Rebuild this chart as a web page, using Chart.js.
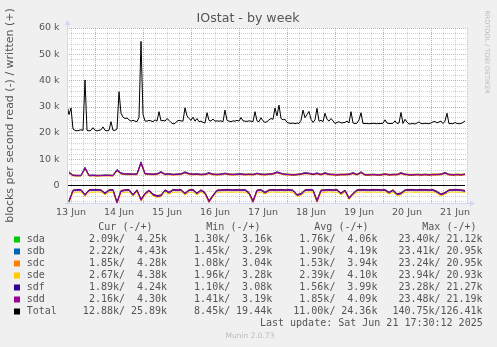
<!DOCTYPE html>
<html>
<head>
<meta charset="utf-8">
<script src="https://cdn.jsdelivr.net/npm/chart.js@4"></script>
<style>
  html, body { margin: 0; padding: 0; background: #F0F0F0; }
  canvas { display: block; }
</style>
</head>
<body>
<canvas id="myChart" width="497" height="347"></canvas>
<script>
// x axis: hours since 13 Jun 00:00
const dayLabels = ['13 Jun', '14 Jun', '15 Jun', '16 Jun', '17 Jun', '18 Jun', '19 Jun', '20 Jun', '21 Jun'];
const dayNoonHours = [12, 36, 60, 84, 108, 132, 156, 180, 204];
const yTicks = [0, 10, 20, 30, 40, 50, 60];

// Total written (+), k blocks/s, one value per hour from hour 10
const totalWrite = [
  30.6, 27.0, 29.5, 21.5, 21.0, 20.8, 21.0, 21.2, 21.0, 40.2,
  21.0, 20.8, 21.0, 22.0, 21.0, 20.8, 21.0, 21.2, 22.3, 21.0,
  20.8, 21.0, 24.3, 21.0, 21.0, 21.5, 35.7, 27.5, 26.0, 25.5,
  25.7, 25.0, 24.5, 24.8, 24.5, 24.3, 26.0, 54.9, 27.0, 24.6,
  24.5, 24.8, 24.6, 24.3, 25.0, 24.5, 28.1, 24.6, 24.8, 24.5,
  25.5, 24.8, 24.0, 23.5, 23.6, 24.5, 24.8, 24.6, 24.5, 29.6,
  26.5, 25.5, 24.8, 26.0, 24.5, 25.5, 24.3, 24.5, 24.0, 23.8,
  27.7, 24.8, 24.5, 25.3, 24.5, 24.6, 24.5, 24.6, 24.3, 28.7,
  24.8, 24.5, 24.3, 24.6, 24.5, 24.8, 24.5, 25.9, 24.6, 24.5,
  24.4, 24.6, 24.5, 24.3, 28.1, 24.6, 24.3, 25.8, 24.6, 24.0,
  24.3, 25.0, 25.5, 25.2, 29.5, 26.5, 30.6, 25.5, 25.0, 25.2,
  24.0, 23.8, 23.6, 23.8, 23.5, 23.8, 23.6, 24.8, 28.7, 25.8,
  27.0, 28.2, 25.2, 24.0, 25.0, 29.4, 24.5, 24.8, 24.3, 27.5,
  25.2, 24.5, 25.5, 24.6, 23.6, 24.0, 24.3, 23.8, 23.9, 24.0,
  24.5, 23.8, 28.1, 23.8, 23.6, 23.7, 25.0, 27.7, 23.6, 23.6,
  23.6, 23.5, 23.6, 23.7, 23.6, 23.5, 23.6, 23.6, 23.7, 25.0,
  23.8, 23.6, 23.6, 23.7, 24.6, 23.6, 23.8, 27.8, 23.6, 25.2,
  24.1, 23.4, 23.5, 23.6, 23.4, 23.8, 24.2, 23.6, 23.5, 23.7,
  23.6, 23.5, 23.8, 24.2, 24.4, 23.8, 24.2, 24.5, 23.6, 24.5,
  27.5, 23.5, 23.6, 23.5, 24.0, 23.6, 23.5, 23.6, 24.0, 24.6
];

// per device, one value every 2 hours from hour 11 (k blocks/s)
const sdaWrite = [
  4.9, 3.8, 3.8, 3.7, 6.7, 3.8, 3.8, 3.7, 3.8, 3.8,
  3.8, 3.8, 5.9, 4.6, 4.3, 4.3, 4.3, 4.3, 8.7, 4.5,
  4.3, 4.3, 4.3, 5.1, 4.3, 4.3, 4.2, 4.2, 4.3, 5.0,
  4.4, 4.3, 4.3, 4.2, 4.2, 4.7, 4.3, 4.2, 4.2, 4.5,
  4.3, 4.2, 4.2, 4.3, 4.2, 4.3, 4.2, 4.5, 4.3, 4.2,
  4.3, 4.4, 5.0, 4.5, 4.3, 4.2, 4.1, 4.1, 4.3, 4.7,
  4.5, 4.3, 4.6, 4.2, 4.7, 4.3, 4.1, 4.1, 4.2, 4.1,
  4.3, 4.7, 4.1, 5.0, 4.1, 4.1, 4.1, 4.1, 4.1, 4.3,
  4.1, 4.1, 4.2, 4.7, 4.3, 4.1, 4.1, 4.1, 4.1, 4.2,
  4.1, 4.1, 4.2, 4.3, 4.8, 4.2, 4.1, 4.1, 4.1, 4.3
];
const sdbWrite = [
  5.2, 4.0, 3.9, 3.9, 6.9, 3.9, 4.0, 3.9, 3.9, 4.0,
  4.0, 3.9, 6.1, 4.8, 4.5, 4.5, 4.4, 4.5, 9.0, 4.6,
  4.5, 4.4, 4.5, 5.3, 4.4, 4.5, 4.3, 4.4, 4.5, 5.2,
  4.6, 4.4, 4.5, 4.3, 4.4, 4.9, 4.4, 4.3, 4.4, 4.7,
  4.4, 4.3, 4.4, 4.5, 4.3, 4.4, 4.3, 4.7, 4.4, 4.3,
  4.5, 4.6, 5.2, 4.7, 4.4, 4.3, 4.2, 4.3, 4.5, 4.9,
  4.7, 4.4, 4.8, 4.3, 4.9, 4.4, 4.3, 4.2, 4.3, 4.3,
  4.4, 4.9, 4.3, 5.2, 4.2, 4.2, 4.3, 4.2, 4.2, 4.5,
  4.2, 4.3, 4.3, 4.9, 4.4, 4.2, 4.2, 4.3, 4.2, 4.3,
  4.2, 4.3, 4.3, 4.4, 5.0, 4.3, 4.2, 4.3, 4.2, 4.4
];
const sdcWrite = [
  4.6, 3.6, 3.5, 3.6, 6.2, 3.5, 3.6, 3.5, 3.6, 3.6,
  3.6, 3.5, 5.5, 4.3, 4.1, 4.0, 4.1, 4.0, 8.2, 4.2,
  4.1, 4.0, 4.1, 4.8, 4.0, 4.1, 3.9, 4.0, 4.1, 4.7,
  4.1, 4.0, 4.1, 3.9, 4.0, 4.4, 4.0, 3.9, 4.0, 4.3,
  4.0, 3.9, 4.0, 4.1, 3.9, 4.0, 3.9, 4.3, 4.0, 3.9,
  4.1, 4.2, 4.7, 4.3, 4.0, 3.9, 3.8, 3.9, 4.1, 4.4,
  4.3, 4.0, 4.3, 3.9, 4.4, 4.0, 3.9, 3.8, 3.9, 3.9,
  4.0, 4.4, 3.9, 4.7, 3.8, 3.8, 3.9, 3.8, 3.8, 4.1,
  3.8, 3.9, 3.9, 4.4, 4.0, 3.8, 3.8, 3.9, 3.8, 3.9,
  3.8, 3.9, 3.9, 4.0, 4.5, 3.9, 3.8, 3.9, 3.8, 4.0
];
const sdeWrite = [
  5.1, 4.0, 3.9, 3.8, 6.6, 3.9, 3.8, 3.9, 3.8, 3.8,
  4.0, 3.9, 5.8, 4.6, 4.4, 4.3, 4.4, 4.3, 8.6, 4.6,
  4.4, 4.4, 4.3, 5.1, 4.4, 4.3, 4.3, 4.2, 4.5, 5.0,
  4.4, 4.4, 4.3, 4.3, 4.2, 4.7, 4.4, 4.3, 4.2, 4.5,
  4.4, 4.3, 4.2, 4.3, 4.3, 4.4, 4.3, 4.5, 4.4, 4.3,
  4.5, 4.4, 5.0, 4.5, 4.4, 4.3, 4.2, 4.3, 4.3, 4.7,
  4.5, 4.4, 4.6, 4.3, 4.7, 4.4, 4.3, 4.2, 4.4, 4.3,
  4.4, 4.7, 4.3, 5.0, 4.2, 4.3, 4.2, 4.2, 4.3, 4.5,
  4.3, 4.2, 4.4, 4.7, 4.4, 4.2, 4.3, 4.3, 4.2, 4.4,
  4.2, 4.4, 4.3, 4.4, 4.8, 4.3, 4.2, 4.4, 4.3, 4.4
];
const sdfWrite = [
  4.8, 3.8, 3.7, 3.7, 6.5, 3.7, 3.8, 3.7, 3.7, 3.8,
  3.8, 3.7, 5.7, 4.5, 4.3, 4.3, 4.2, 4.3, 8.5, 4.4,
  4.3, 4.2, 4.3, 5.0, 4.2, 4.3, 4.1, 4.2, 4.3, 4.9,
  4.4, 4.2, 4.3, 4.1, 4.2, 4.6, 4.2, 4.1, 4.2, 4.5,
  4.2, 4.1, 4.2, 4.3, 4.1, 4.2, 4.1, 4.5, 4.2, 4.1,
  4.3, 4.4, 4.9, 4.5, 4.2, 4.1, 4.0, 4.1, 4.3, 4.6,
  4.5, 4.2, 4.5, 4.1, 4.6, 4.2, 4.1, 4.0, 4.1, 4.1,
  4.2, 4.6, 4.1, 4.9, 4.0, 4.0, 4.1, 4.0, 4.0, 4.3,
  4.0, 4.1, 4.1, 4.6, 4.2, 4.0, 4.0, 4.1, 4.0, 4.1,
  4.0, 4.1, 4.1, 4.2, 4.7, 4.1, 4.0, 4.1, 4.0, 4.2
];
const sddWrite = [
  5.0, 3.9, 3.8, 3.8, 6.8, 3.8, 3.9, 3.8, 3.8, 3.9,
  3.9, 3.8, 6.0, 4.7, 4.4, 4.4, 4.3, 4.4, 8.9, 4.5,
  4.4, 4.3, 4.4, 5.2, 4.3, 4.4, 4.2, 4.3, 4.4, 5.1,
  4.5, 4.3, 4.4, 4.2, 4.3, 4.8, 4.3, 4.2, 4.3, 4.6,
  4.3, 4.2, 4.3, 4.4, 4.2, 4.3, 4.2, 4.6, 4.3, 4.2,
  4.4, 4.5, 5.1, 4.6, 4.3, 4.2, 4.1, 4.2, 4.4, 4.8,
  4.6, 4.3, 4.7, 4.2, 4.8, 4.3, 4.2, 4.1, 4.2, 4.2,
  4.3, 4.8, 4.2, 5.1, 4.1, 4.1, 4.2, 4.1, 4.1, 4.4,
  4.1, 4.2, 4.2, 4.8, 4.3, 4.1, 4.1, 4.2, 4.1, 4.2,
  4.1, 4.2, 4.2, 4.3, 4.9, 4.2, 4.1, 4.2, 4.1, 4.3
];

// read (-), plotted below zero
const sdaRead = [
  6.0, 1.9, 1.8, 1.7, 3.7, 1.8, 1.8, 1.7, 1.8, 3.1,
  1.8, 1.8, 6.5, 2.1, 1.8, 1.8, 3.7, 1.8, 5.5, 3.2,
  1.9, 3.5, 4.1, 3.9, 1.8, 2.8, 1.8, 1.8, 1.7, 3.2,
  1.8, 1.8, 3.1, 1.8, 2.9, 6.1, 3.9, 1.9, 1.8, 1.7,
  1.8, 1.8, 1.7, 1.8, 1.8, 2.9, 6.1, 1.9, 1.8, 2.8,
  1.8, 1.7, 1.8, 1.8, 1.8, 1.7, 1.9, 3.7, 3.3, 1.8,
  1.7, 1.8, 5.9, 1.9, 1.8, 1.7, 1.8, 1.8, 3.1, 1.9,
  4.9, 3.2, 1.8, 1.7, 1.8, 1.8, 1.7, 1.8, 1.8, 1.7,
  2.8, 1.8, 3.4, 3.1, 1.8, 1.7, 1.8, 1.8, 1.7, 1.8,
  1.8, 1.7, 2.5, 3.5, 2.9, 1.8, 1.7, 1.8, 1.8, 2.1
];
const sdbRead = [
  6.2, 2.1, 1.9, 1.9, 3.9, 2.0, 1.9, 1.9, 2.0, 3.3,
  2.0, 1.9, 6.6, 2.3, 2.0, 1.9, 3.9, 2.0, 5.6, 3.4,
  2.1, 3.7, 4.3, 4.1, 2.0, 3.0, 1.9, 2.0, 1.9, 3.4,
  2.0, 1.9, 3.3, 2.0, 3.1, 6.3, 4.1, 2.1, 2.0, 1.9,
  1.9, 2.0, 1.9, 2.0, 1.9, 3.1, 6.3, 2.1, 1.9, 3.0,
  2.0, 1.9, 2.0, 1.9, 2.0, 1.9, 2.1, 3.9, 3.5, 2.0,
  1.9, 2.0, 6.1, 2.1, 2.0, 1.9, 2.0, 1.9, 3.3, 2.1,
  5.0, 3.4, 2.0, 1.9, 1.9, 2.0, 1.9, 1.9, 2.0, 1.9,
  3.0, 2.0, 3.6, 3.3, 2.0, 1.9, 1.9, 2.0, 1.9, 1.9,
  2.0, 1.9, 2.7, 3.7, 3.1, 2.0, 1.9, 1.9, 2.0, 2.2
];
const sdcRead = [
  5.7, 1.7, 1.5, 1.5, 3.4, 1.6, 1.5, 1.5, 1.6, 2.8,
  1.6, 1.5, 6.2, 1.9, 1.6, 1.5, 3.4, 1.6, 5.2, 2.9,
  1.7, 3.2, 3.8, 3.6, 1.6, 2.5, 1.5, 1.6, 1.5, 2.9,
  1.6, 1.5, 2.8, 1.6, 2.6, 5.8, 3.6, 1.7, 1.6, 1.5,
  1.5, 1.6, 1.5, 1.6, 1.5, 2.6, 5.8, 1.7, 1.5, 2.5,
  1.6, 1.5, 1.6, 1.5, 1.6, 1.5, 1.7, 3.4, 3.0, 1.6,
  1.5, 1.6, 5.6, 1.7, 1.6, 1.5, 1.6, 1.5, 2.8, 1.7,
  4.6, 2.9, 1.6, 1.5, 1.5, 1.6, 1.5, 1.5, 1.6, 1.5,
  2.5, 1.6, 3.1, 2.8, 1.6, 1.5, 1.5, 1.6, 1.5, 1.5,
  1.6, 1.5, 2.2, 3.2, 2.6, 1.6, 1.5, 1.5, 1.6, 1.9
];
const sdeRead = [
  6.6, 2.7, 2.6, 2.5, 4.2, 2.6, 2.6, 2.5, 2.6, 3.6,
  2.6, 2.6, 7.0, 2.9, 2.6, 2.6, 4.1, 2.6, 6.0, 3.7,
  2.7, 4.0, 4.6, 4.3, 2.6, 3.3, 2.6, 2.6, 2.5, 3.6,
  2.6, 2.6, 3.6, 2.6, 3.4, 6.6, 4.3, 2.7, 2.6, 2.5,
  2.6, 2.6, 2.5, 2.6, 2.6, 3.4, 6.6, 2.7, 2.6, 3.3,
  2.6, 2.5, 2.6, 2.6, 2.6, 2.5, 2.7, 4.2, 3.8, 2.6,
  2.5, 2.6, 6.5, 2.7, 2.6, 2.5, 2.6, 2.6, 3.6, 2.7,
  5.4, 3.7, 2.6, 2.5, 2.6, 2.6, 2.5, 2.6, 2.6, 2.5,
  3.3, 2.6, 3.9, 3.6, 2.6, 2.5, 2.6, 2.6, 2.5, 2.6,
  2.6, 2.5, 3.0, 4.0, 3.4, 2.6, 2.5, 2.6, 2.6, 2.7
];
const sdfRead = [
  5.9, 1.8, 1.6, 1.6, 3.5, 1.7, 1.6, 1.6, 1.7, 2.9,
  1.7, 1.6, 6.3, 2.0, 1.7, 1.6, 3.5, 1.7, 5.3, 3.0,
  1.8, 3.3, 3.9, 3.7, 1.7, 2.6, 1.6, 1.7, 1.6, 3.0,
  1.7, 1.6, 2.9, 1.7, 2.7, 5.9, 3.7, 1.8, 1.7, 1.6,
  1.6, 1.7, 1.6, 1.7, 1.6, 2.7, 5.9, 1.8, 1.6, 2.6,
  1.7, 1.6, 1.7, 1.6, 1.7, 1.6, 1.8, 3.5, 3.1, 1.7,
  1.6, 1.7, 5.7, 1.8, 1.7, 1.6, 1.7, 1.6, 2.9, 1.8,
  4.7, 3.0, 1.7, 1.6, 1.6, 1.7, 1.6, 1.6, 1.7, 1.6,
  2.6, 1.7, 3.2, 2.9, 1.7, 1.6, 1.6, 1.7, 1.6, 1.6,
  1.7, 1.6, 2.3, 3.3, 2.7, 1.7, 1.6, 1.6, 1.7, 1.9
];
const sddRead = [
  6.4, 2.0, 1.8, 1.8, 3.8, 1.9, 1.8, 1.8, 1.9, 3.2,
  1.9, 1.8, 6.8, 2.2, 1.9, 1.8, 3.8, 1.9, 5.7, 3.3,
  2.0, 3.6, 4.2, 4.0, 1.9, 2.9, 1.8, 1.9, 1.8, 3.3,
  1.9, 1.8, 3.2, 1.9, 3.0, 6.4, 4.0, 2.0, 1.9, 1.8,
  1.8, 1.9, 1.8, 1.9, 1.8, 3.0, 6.4, 2.0, 1.8, 2.9,
  1.9, 1.8, 1.9, 1.8, 1.9, 1.8, 2.0, 3.8, 3.4, 1.9,
  1.8, 1.9, 6.2, 2.0, 1.9, 1.8, 1.9, 1.8, 3.2, 2.0,
  5.1, 3.3, 1.9, 1.8, 1.8, 1.9, 1.8, 1.8, 1.9, 1.8,
  2.9, 1.9, 3.5, 3.2, 1.9, 1.8, 1.8, 1.9, 1.8, 1.8,
  1.9, 1.8, 2.6, 3.6, 3.0, 1.9, 1.8, 1.8, 1.9, 2.2
];

// legend table
const legendNames = ['sda', 'sdb', 'sdc', 'sde', 'sdf', 'sdd', 'Total'];
const legendColors = ['#00CC00', '#0066B3', '#FF8000', '#FFCC00', '#330099', '#990099', '#000000'];
const curRead  = [2.09, 2.22, 1.85, 2.67, 1.89, 2.16, 12.88];
const curWrite = [4.25, 4.43, 4.28, 4.38, 4.24, 4.30, 25.89];
const minRead  = [1.30, 1.45, 1.08, 1.96, 1.10, 1.41, 8.45];
const minWrite = [3.16, 3.29, 3.04, 3.28, 3.08, 3.19, 19.44];
const avgRead  = [1.76, 1.90, 1.53, 2.39, 1.56, 1.85, 11.00];
const avgWrite = [4.06, 4.19, 3.94, 4.10, 3.99, 4.09, 24.36];
const maxRead  = [23.40, 23.41, 23.24, 23.94, 23.28, 23.48, 140.75];
const maxWrite = [21.12, 20.95, 20.95, 20.93, 21.27, 21.19, 126.41];
const legendHeaders = ['Cur (-/+)', 'Min (-/+)', 'Avg (-/+)', 'Max (-/+)'];
const lastUpdate = 'Last update: Sat Jun 21 17:30:12 2025';

const totalHours = totalWrite.map((v, i) => 10 + i);
const devHours = sddWrite.map((v, i) => 11 + 2 * i);

const devWrite = [sdaWrite, sdbWrite, sdcWrite, sdeWrite, sdfWrite, sddWrite];
const devRead = [sdaRead, sdbRead, sdcRead, sdeRead, sdfRead, sddRead];

const datasets = [{
  label: 'Total',
  data: totalWrite.map((v, i) => ({ x: totalHours[i], y: v })),
  borderColor: '#000000'
}];
for (let d = 5; d >= 0; d--) {
  datasets.push({
    label: legendNames[d] + ' write',
    data: devWrite[d].map((v, i) => ({ x: devHours[i], y: v })),
    borderColor: legendColors[d]
  });
  datasets.push({
    label: legendNames[d] + ' read',
    data: devRead[d].map((v, i) => ({ x: devHours[i], y: -v })),
    borderColor: legendColors[d]
  });
}
datasets.forEach(ds => {
  ds.borderWidth = 1;
  ds.pointRadius = 0;
  ds.tension = 0;
  ds.fill = false;
});

const AXIS = '#CFD6F8';
const TEXT = '#555555';

const munin = {
  id: 'munin',
  beforeDraw(chart) {
    const { ctx, chartArea: a } = chart;
    ctx.save();
    ctx.fillStyle = '#F0F0F0';
    ctx.fillRect(0, 0, chart.width, chart.height);
    ctx.fillStyle = '#FFFFFF';
    ctx.fillRect(a.left, a.top, a.right - a.left, a.bottom - a.top);
    ctx.restore();
  },
  beforeDatasetsDraw(chart) {
    const { ctx, chartArea: a, scales: { x, y } } = chart;
    ctx.save();
    ctx.lineWidth = 1;
    ctx.setLineDash([1, 1]);
    // minor grid
    ctx.strokeStyle = 'rgba(150,150,150,0.45)';
    for (let h = 12; h <= x.max; h += 6) {
      if (h % 24 === 0) continue;
      const px = Math.round(x.getPixelForValue(h)) + 0.5;
      ctx.beginPath(); ctx.moveTo(px, a.top); ctx.lineTo(px, a.bottom); ctx.stroke();
    }
    for (let v = -6; v <= 60; v += 2) {
      if (v % 10 === 0) continue;
      const py = Math.round(y.getPixelForValue(v)) + 0.5;
      ctx.beginPath(); ctx.moveTo(a.left, py); ctx.lineTo(a.right, py); ctx.stroke();
    }
    // major grid
    ctx.strokeStyle = 'rgba(225,120,120,0.7)';
    for (let h = 24; h <= x.max; h += 24) {
      const px = Math.round(x.getPixelForValue(h)) + 0.5;
      ctx.beginPath(); ctx.moveTo(px, a.top); ctx.lineTo(px, a.bottom); ctx.stroke();
    }
    yTicks.forEach(v => {
      if (v === 0) return;
      const py = Math.round(y.getPixelForValue(v)) + 0.5;
      ctx.beginPath(); ctx.moveTo(a.left, py); ctx.lineTo(a.right, py); ctx.stroke();
    });
    // zero line
    ctx.setLineDash([]);
    ctx.strokeStyle = '#000000';
    const zy = Math.round(y.getPixelForValue(0)) + 0.5;
    ctx.beginPath(); ctx.moveTo(a.left, zy); ctx.lineTo(x.getPixelForValue(totalHours[totalHours.length - 1]), zy); ctx.stroke();
    ctx.restore();
  },
  afterDatasetsDraw(chart) {
    const { ctx, chartArea: a } = chart;
    ctx.save();
    ctx.strokeStyle = AXIS;
    ctx.fillStyle = AXIS;
    ctx.lineWidth = 1;
    const lx = a.left + 0.5, by = a.bottom + 0.5;
    ctx.beginPath(); ctx.moveTo(lx, a.bottom + 2); ctx.lineTo(lx, a.top - 4); ctx.stroke();
    ctx.beginPath(); ctx.moveTo(lx - 3, a.top - 3); ctx.lineTo(lx + 3, a.top - 3); ctx.lineTo(lx, a.top - 8); ctx.closePath(); ctx.fill();
    ctx.beginPath(); ctx.moveTo(a.left - 2, by); ctx.lineTo(a.right + 4, by); ctx.stroke();
    ctx.beginPath(); ctx.moveTo(a.right + 3, by - 3); ctx.lineTo(a.right + 3, by + 3); ctx.lineTo(a.right + 8, by); ctx.closePath(); ctx.fill();
    ctx.restore();
  },
  afterDraw(chart) {
    const { ctx, chartArea: a } = chart;
    ctx.save();
    ctx.fillStyle = TEXT;
    ctx.textBaseline = 'middle';
    // title
    ctx.font = '12.6px "DejaVu Sans"';
    ctx.textAlign = 'center';
    ctx.fillText('IOstat - by week', 248, 19);
    // vertical label
    ctx.save();
    ctx.translate(10, (a.top + a.bottom) / 2);
    ctx.rotate(-Math.PI / 2);
    ctx.font = '11px "DejaVu Sans"';
    ctx.fillText('blocks per second read (-) / written (+)', 0, 0);
    ctx.restore();
    // watermark
    ctx.save();
    ctx.translate(487, 52);
    ctx.rotate(Math.PI / 2);
    ctx.font = '6.5px "DejaVu Sans"';
    ctx.fillStyle = '#BBBBBB';
    ctx.fillText('RRDTOOL / TOBI OETIKER', 0, 0);
    ctx.restore();
    ctx.font = '7.5px "DejaVu Sans"';
    ctx.fillStyle = '#BBBBBB';
    ctx.fillText('Munin 2.0.73', 250, 336);

    // legend table: groups of read/write columns, 105px apart
    ctx.fillStyle = TEXT;
    ctx.font = '10px "DejaVu Sans Mono"';
    ctx.textAlign = 'left';
    const hy = 227.5;
    legendHeaders.forEach((h, k) => ctx.fillText(h, 98.3 + 108 * k, hy));
    const groups = [[curRead, curWrite], [minRead, minWrite], [avgRead, avgWrite], [maxRead, maxWrite]];
    legendNames.forEach((name, i) => {
      const ry = hy + 12 * (i + 1);
      ctx.fillStyle = legendColors[i];
      ctx.fillRect(14, ry - 3, 6, 6);
      ctx.fillStyle = TEXT;
      ctx.textAlign = 'left';
      ctx.fillText(name, 26.7, ry);
      ctx.textAlign = 'right';
      groups.forEach(([rd, wr], k) => {
        const wx = 167 + 105.2 * k;
        ctx.fillText(rd[i].toFixed(2) + 'k/', wx - 42, ry);
        ctx.fillText(wr[i].toFixed(2) + 'k', wx, ry);
      });
    });
    ctx.textAlign = 'right';
    ctx.fillText(lastUpdate, 482.7, hy + 96);
    ctx.restore();
  }
};

const config = {
  type: 'line',
  data: { datasets: datasets },
  options: {
    responsive: false,
    animation: false,
    events: [],
    layout: { padding: { left: 0, top: 28, right: 30, bottom: 124 } },
    plugins: { legend: { display: false }, tooltip: { enabled: false } },
    scales: {
      x: {
        type: 'linear', min: 10, max: 210,
        grid: { display: false, drawTicks: false },
        border: { display: false },
        afterBuildTicks: s => { s.ticks = dayNoonHours.map(v => ({ value: v })); },
        afterFit: s => { s.height = 20; },
        ticks: {
          callback: (v, i) => dayLabels[i],
          autoSkip: false, maxRotation: 0, padding: 4,
          color: TEXT, font: { family: 'DejaVu Sans', size: 9.5 }
        }
      },
      y: {
        min: -6.7, max: 60,
        grid: { display: false, drawTicks: false },
        border: { display: false },
        afterBuildTicks: s => { s.ticks = yTicks.map(v => ({ value: v })); },
        afterFit: s => { s.width = 67; },
        ticks: {
          callback: v => v === 0 ? '0' : v + ' k',
          padding: 7.5,
          color: TEXT, font: { family: 'DejaVu Sans', size: 9.5 }
        }
      }
    }
  },
  plugins: [munin]
};

const myChart = new Chart(document.getElementById('myChart'), config);
</script>
</body>
</html>
